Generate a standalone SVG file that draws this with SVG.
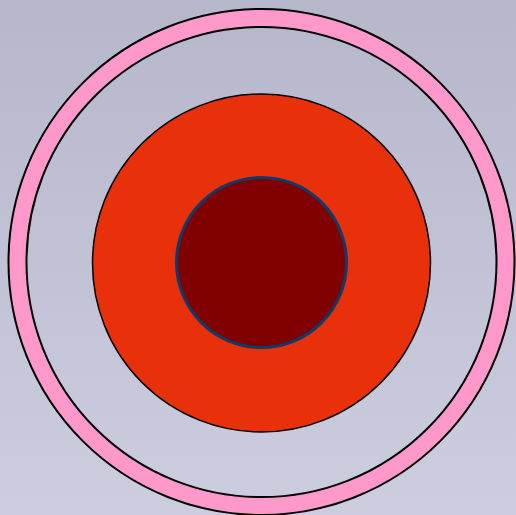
<svg xmlns="http://www.w3.org/2000/svg" width="516" height="515" viewBox="0 0 516 515">
<defs>
<linearGradient id="bg" x1="0" y1="0" x2="0" y2="1">
<stop offset="0" stop-color="#b7b7cb"/>
<stop offset="1" stop-color="#cdcde0"/>
</linearGradient>
</defs>
<style>
.ring{fill:#ff99cc;fill-rule:evenodd;stroke:#000;stroke-width:2}
.mid{fill:#e8300b;stroke:#000;stroke-width:1.5}
.core{fill:#800000;stroke:#0d3c6b;stroke-width:3}
</style>
<rect width="516" height="515" fill="url(#bg)"/>
<g id="outer-ring">
<path class="ring" d="M8.5,262a253,253 0 1,0 506,0a253,253 0 1,0 -506,0Z M26.5,262a235,235 0 1,0 470,0a235,235 0 1,0 -470,0Z"/>
</g>
<g id="middle">
<circle class="mid" cx="261.5" cy="263" r="169"/>
</g>
<g id="core">
<circle class="core" cx="261.5" cy="262.5" r="85"/>
</g>
</svg>
